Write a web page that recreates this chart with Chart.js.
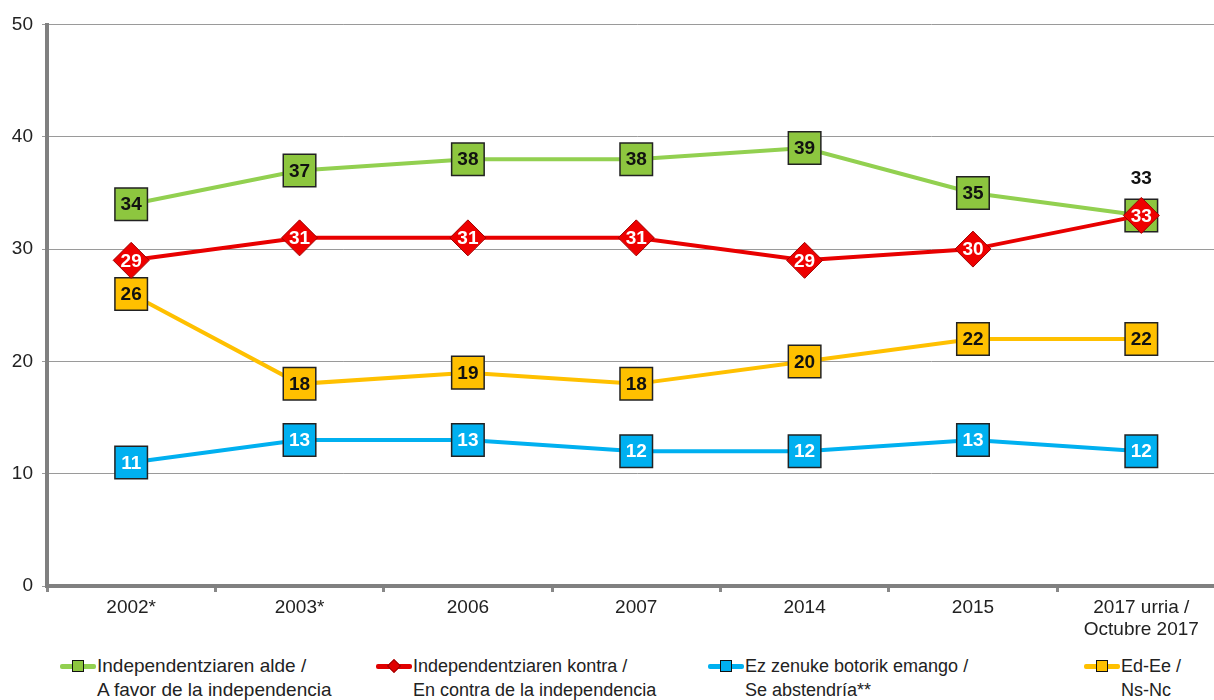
<!DOCTYPE html>
<html>
<head>
<meta charset="utf-8">
<script src="https://cdn.jsdelivr.net/npm/chart.js@4.4.0/dist/chart.umd.min.js"></script>
<style>
  html, body { margin: 0; padding: 0; background: #fff; overflow: hidden; }
  #wrap { position: relative; width: 1214px; height: 700px; overflow: hidden; }
  #grafico { position: absolute; left: 0; top: 0; }
  .leg { position: absolute; top: 654px; font-family: "Liberation Sans", Arial, sans-serif; font-size: 18px; line-height: 24px; color: #222; }
  .leg.wide { font-size: 19px; }
  .sw { position: absolute; top: 10px; height: 5px; width: 36px; border-radius: 2px; }
  .mk { position: absolute; top: 6px; left: 12px; width: 12px; height: 12px; border: 1px solid #111; box-sizing: border-box; }
  .dia { position: absolute; top: 7px; left: 13px; width: 10px; height: 10px; transform: rotate(45deg); background: #e00000; border: 1px solid #900; box-sizing: border-box; }
  .txt { position: absolute; left: 37px; top: 0; white-space: nowrap; }
</style>
</head>
<body>
<div id="wrap">
  <canvas id="grafico" width="1250" height="640"></canvas>
  <div class="leg wide" style="left:60px">
    <div class="sw" style="background:#92d050"></div><div class="mk" style="background:#8dc63f"></div>
    <div class="txt">Independentziaren alde /<br>A favor de la independencia</div>
  </div>
  <div class="leg" style="left:376px">
    <div class="sw" style="background:#e00000"></div><div class="dia"></div>
    <div class="txt">Independentziaren kontra /<br>En contra de la independencia</div>
  </div>
  <div class="leg" style="left:708px">
    <div class="sw" style="background:#00b0f0"></div><div class="mk" style="background:#00b0f0"></div>
    <div class="txt">Ez zenuke botorik emango /<br>Se abstendría**</div>
  </div>
  <div class="leg" style="left:1084px">
    <div class="sw" style="background:#ffc000"></div><div class="mk" style="background:#ffc000"></div>
    <div class="txt">Ed-Ee /<br>Ns-Nc</div>
  </div>
</div>
<script>
// Datos
const categorias = ['2002*', '2003*', '2006', '2007', '2014', '2015', ['2017 urria /', 'Octubre 2017']];
const alde = [34, 37, 38, 38, 39, 35, 33];
const kontra = [29, 31, 31, 31, 29, 30, 33];
const abstencion = [11, 13, 13, 12, 12, 13, 12];
const nsnc = [26, 18, 19, 18, 20, 22, 22];
const yTicks = [0, 10, 20, 30, 40, 50];

// etiquetas dentro de los marcadores
const etiquetas = {
  id: 'etiquetas',
  afterDatasetsDraw(chart) {
    const ctx = chart.ctx;
    ctx.save();
    ctx.font = 'bold 19px "Liberation Sans", Arial, sans-serif';
    ctx.textAlign = 'center';
    ctx.textBaseline = 'middle';
    chart.data.datasets.forEach((ds, i) => {
      const meta = chart.getDatasetMeta(i);
      meta.data.forEach((pt, j) => {
        const arriba = ds.labelAbove && ds.labelAbove[j];
        const y = arriba ? pt.y - 37 : pt.y + 1;
        ctx.fillStyle = arriba ? '#111' : ds.labelColor;
        ctx.fillText(String(ds.data[j]), pt.x, y);
      });
    });
    ctx.restore();
  }
};

const sq = 23;
const ctx = document.getElementById('grafico').getContext('2d');
new Chart(ctx, {
  type: 'line',
  data: {
    labels: categorias,
    datasets: [
      {
        label: 'Independentziaren alde / A favor de la independencia',
        data: alde, order: 3,
        borderColor: '#92d050', borderWidth: 4,
        pointStyle: 'rect', pointRadius: sq, pointHoverRadius: sq,
        pointBackgroundColor: '#8dc63f', pointBorderColor: '#222', pointBorderWidth: 1.5,
        labelColor: '#111', labelAbove: [false, false, false, false, false, false, true]
      },
      {
        label: 'Independentziaren kontra / En contra de la independencia',
        data: kontra, order: 0,
        borderColor: '#e80000', borderWidth: 4,
        pointStyle: 'rectRot', pointRadius: 18, pointHoverRadius: 18,
        pointBackgroundColor: '#ee0000', pointBorderColor: '#a00000', pointBorderWidth: 1,
        labelColor: '#fff'
      },
      {
        label: 'Ez zenuke botorik emango / Se abstendría**',
        data: abstencion, order: 2,
        borderColor: '#00b0f0', borderWidth: 4,
        pointStyle: 'rect', pointRadius: sq, pointHoverRadius: sq,
        pointBackgroundColor: '#00b0f0', pointBorderColor: '#222', pointBorderWidth: 1.5,
        labelColor: '#fff'
      },
      {
        label: 'Ed-Ee / Ns-Nc',
        data: nsnc, order: 1,
        borderColor: '#ffc000', borderWidth: 4,
        pointStyle: 'rect', pointRadius: sq, pointHoverRadius: sq,
        pointBackgroundColor: '#ffc000', pointBorderColor: '#222', pointBorderWidth: 1.5,
        labelColor: '#111'
      }
    ]
  },
  options: {
    responsive: false,
    animation: false,
    layout: { padding: { top: 23, left: 0, right: 0, bottom: 0 } },
    plugins: { legend: { display: false }, tooltip: { enabled: false } },
    scales: {
      x: {
        offset: true,
        afterFit(scale) { scale.height = 54; },
        grid: { offset: true, drawOnChartArea: false, drawTicks: true, tickLength: 6, color: '#888', lineWidth: 3 },
        border: { color: '#808080', width: 4 },
        ticks: { color: '#222', font: { family: '"Liberation Sans", Arial, sans-serif', size: 19 }, padding: 4, maxRotation: 0 }
      },
      y: {
        min: 0, max: 50,
        afterFit(scale) { scale.width = 47; },
        afterBuildTicks(scale) { scale.ticks = yTicks.map(v => ({ value: v })); },
        grid: { color: '#9a9a9a', lineWidth: 1, drawTicks: true, tickLength: 5 },
        border: { color: '#808080', width: 4 },
        ticks: { color: '#222', font: { family: '"Liberation Sans", Arial, sans-serif', size: 19 }, padding: 9 }
      }
    }
  },
  plugins: [etiquetas]
});
</script>
</body>
</html>
